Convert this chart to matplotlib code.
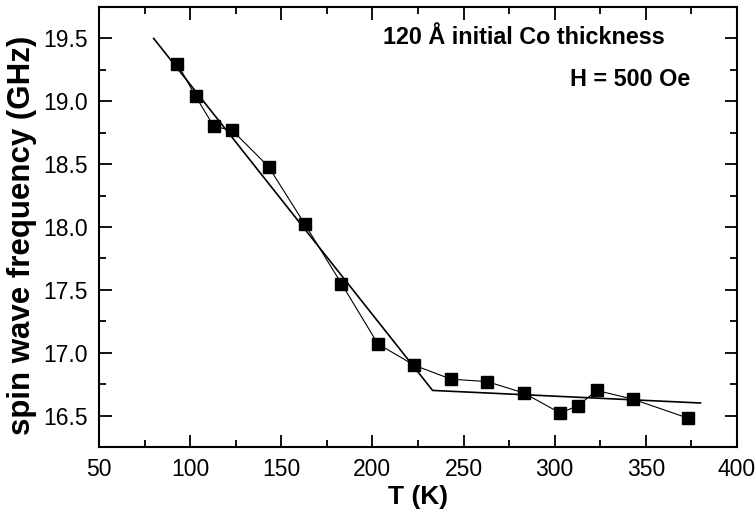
import matplotlib
matplotlib.use("Agg")
import matplotlib.pyplot as plt
from matplotlib.ticker import MultipleLocator, FormatStrFormatter

plt.rcParams['font.family'] = ['Liberation Sans', 'DejaVu Sans']

# Measured spin wave frequency vs temperature
temperature = [93, 103, 113, 123, 143, 163, 183, 203, 223, 243, 263, 283, 303, 313, 323, 343, 373]
frequency = [19.30, 19.04, 18.80, 18.77, 18.48, 18.02, 17.55, 17.07, 16.90, 16.79, 16.77, 16.68,
             16.52, 16.58, 16.70, 16.63, 16.48]

# Two-segment linear fit
fit_T = [80, 233, 380]
fit_f = [19.50, 16.70, 16.60]

fig = plt.figure(figsize=(7.56, 5.15), dpi=100)
ax = fig.add_axes([99/756, 1 - 447/515, (737-99)/756, (447-7)/515])

ax.plot(fit_T, fit_f, color='black', lw=1.2, zorder=2)
ax.plot(temperature, frequency, color='black', lw=0.8, marker='s', ms=8.5,
        markerfacecolor='black', markeredgecolor='black', zorder=3)

ax.set_xlim(50, 400)
ax.set_ylim(16.25, 19.75)
ax.xaxis.set_major_locator(MultipleLocator(50))
ax.xaxis.set_minor_locator(MultipleLocator(25))
ax.yaxis.set_major_locator(MultipleLocator(0.5))
ax.yaxis.set_minor_locator(MultipleLocator(0.25))
ax.yaxis.set_major_formatter(FormatStrFormatter('%.1f'))

ax.tick_params(which='both', direction='in', top=True, right=True, width=1.3,
               labeltop=False, labelright=False)
ax.tick_params(which='major', length=9, labelsize=16.5)
ax.tick_params(axis='x', which='major', pad=8)
ax.tick_params(axis='y', which='major', pad=8)
ax.tick_params(which='minor', length=5)
for s in ax.spines.values():
    s.set_linewidth(1.5)

ax.set_xlabel('T (K)', fontsize=19, fontweight='bold', labelpad=3)
ax.set_ylabel('spin wave frequency (GHz)', fontsize=22.5, fontweight='bold')
ax.yaxis.set_label_coords(-0.097, 0.48)

ax.text(0.445, 0.93, '120 Å initial Co thickness', transform=ax.transAxes,
        fontsize=16.8, fontweight='bold', ha='left', va='center')
ax.text(0.926, 0.836, 'H = 500 Oe', transform=ax.transAxes,
        fontsize=16.8, fontweight='bold', ha='right', va='center')

fig.savefig('out.png', dpi=100)
